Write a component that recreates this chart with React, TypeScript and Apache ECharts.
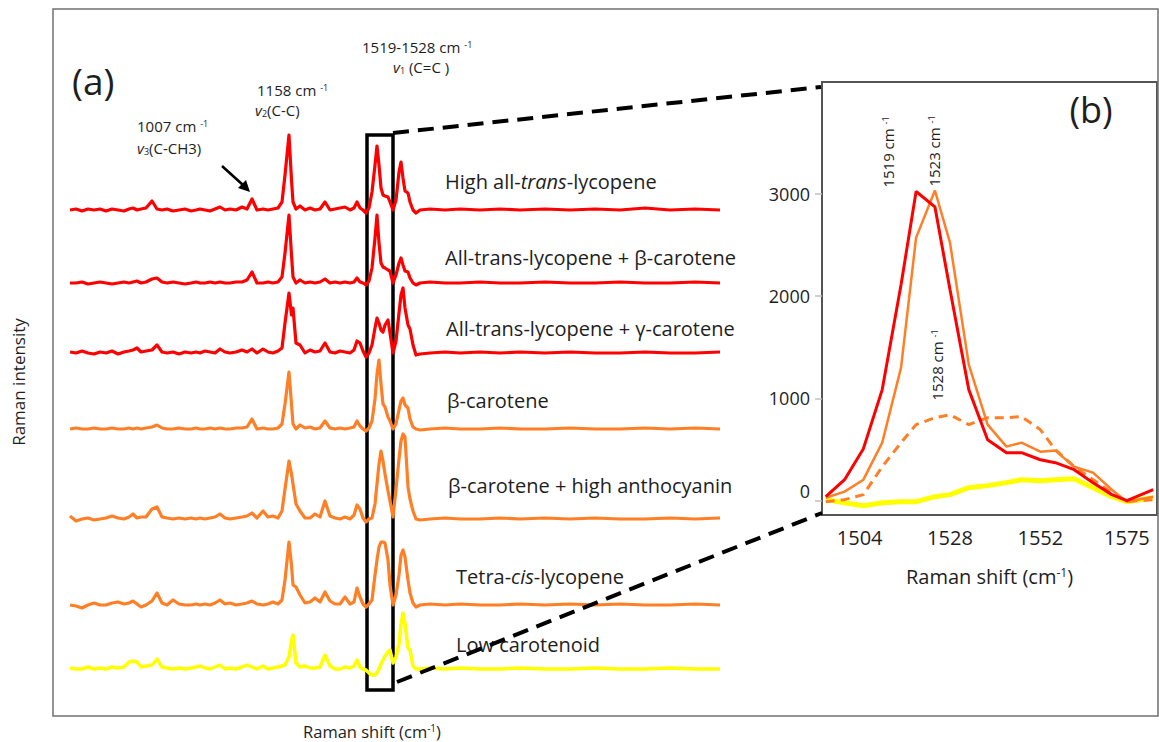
import React, { useEffect, useRef } from "react";
import * as echarts from "echarts";

// ---------- Panel (a): stacked Raman spectra ----------
// Raman shift grid (cm-1) shared by all spectra in panel (a)
const shiftA = [
  280, 304, 328, 352, 376, 400, 424, 448, 472, 496,
  516, 532, 548, 564, 584, 608, 628, 648, 668, 692,
  716, 740, 764, 784, 800, 820, 840, 860, 880, 900,
  920, 944, 968, 988, 1008, 1028, 1052, 1072, 1092, 1112,
  1128, 1140, 1156, 1166, 1172, 1184, 1200, 1220, 1240, 1260,
  1280, 1300, 1320, 1340, 1360, 1380, 1400, 1416, 1428, 1440,
  1452, 1464, 1476, 1488, 1500, 1508, 1516, 1524, 1532, 1540,
  1552, 1560, 1572, 1584, 1596, 1604, 1612, 1620, 1632, 1640,
  1652, 1664, 1680, 1720, 1780, 1840, 1920, 2000, 2080, 2180,
  2280, 2380, 2480, 2580, 2680, 2780, 2880,
];

const traceNames = [
  "High all-trans-lycopene",
  "All-trans-lycopene + β-carotene",
  "All-trans-lycopene + γ-carotene",
  "β-carotene",
  "β-carotene + high anthocyanin",
  "Tetra-cis-lycopene",
  "Low carotenoid",
];

// vertical offsets (stacking) of each spectrum, a.u.
const traceOffsets = [490, 417, 347, 271, 181, 95, 31];

// intensities above baseline, a.u.
const highTrans = [
  0, 1, -1, 1, 0, 1, -1, 1, 0, -1,
  1, 2, 0, 1, 2, 9, 1, 0, 1, -1,
  0, 1, -1, 0, 1, 0, -1, 1, 3, 0,
  1, 0, 3, 1, 11, 0, 1, 0, 1, 2,
  8, 35, 75, 30, 8, 1, 4, 0, 2, 0,
  1, 8, 0, 1, 2, 3, 0, 2, 8, 2,
  0, -3, 2, 18, 45, 64, 45, 22, 15, 14,
  13, 8, 0, 10, 38, 48, 32, 19, 17, 8,
  0, -3, 0, 1, 0, 1, 0, 1, 0, 1,
  0, 1, 0, 2, 0, 1, 0,
];
const transBeta = [
  0, 0, 1, -1, 0, 1, 0, -1, 0, 1,
  0, 1, 2, 0, 1, 4, 5, 1, 0, 1,
  0, -1, 0, 1, 0, 0, 1, 0, 1, 0,
  0, 1, 1, 3, 11, 0, 0, 1, 0, 1,
  6, 30, 68, 28, 6, 0, 3, 0, 1, 0,
  1, 4, 0, 1, 0, 1, 0, 1, 5, 1,
  0, -2, 2, 15, 45, 68, 40, 20, 16, 15,
  13, 12, 0, 8, 20, 25, 18, 12, 11, 5,
  0, -2, 0, 1, 0, 0, 1, 0, 0, 1,
  0, 0, 1, 0, 0, 1, 0,
];
const transGamma = [
  1, 0, 2, 0, -1, 1, 0, 2, -1, 1,
  2, 3, 5, 1, 2, 3, 8, 1, 0, 1,
  -1, 1, 0, 1, 0, 2, 1, 0, 4, 1,
  0, 1, 3, 1, 4, 0, 4, 1, 0, 2,
  5, 30, 60, 38, 45, 10, 8, 0, 3, 1,
  2, 10, 1, 0, 2, 1, 0, 3, 12, 10,
  2, -4, 0, 8, 25, 35, 30, 23, 21, 28,
  33, 20, 0, 12, 40, 58, 65, 45, 28, 24,
  8, -2, -1, 0, 1, 0, 1, 0, 1, 0,
  1, 0, 0, 1, 0, 0, 1,
];
const betaCarotene = [
  0, 1, 0, 0, 1, 0, 0, 1, 0, 0,
  1, 0, 1, 0, 1, 2, 4, 1, 0, 0,
  1, 0, 0, 1, 0, 0, 1, 0, 1, 0,
  0, 1, 1, 2, 10, 0, 1, 0, 0, 1,
  5, 25, 57, 25, 5, 0, 4, 1, 2, 0,
  1, 8, 1, 0, 1, 0, 1, 2, 8, 3,
  0, -2, 1, 8, 30, 55, 69, 45, 25, 22,
  12, 8, 0, 5, 19, 28, 31, 24, 21, 10,
  2, 0, -1, 0, 1, 0, 0, 1, 0, 0,
  1, 0, 0, 1, 0, 1, 0,
];
const betaAntho = [
  3, -2, 0, 1, -1, 0, 1, 3, 1, 0,
  2, 5, 1, 2, 2, 10, 12, 2, 1, 0,
  1, 0, 1, 0, 1, 0, 1, 2, 5, 1,
  0, 1, 2, 3, 6, 1, 8, 2, 3, 1,
  8, 30, 58, 45, 35, 15, 8, 1, 1, 5,
  2, 18, 3, 1, 0, 2, 0, 4, 14, 10,
  1, -3, 0, 1, 15, 35, 55, 68, 58, 45,
  28, 18, 2, 30, 60, 78, 85, 82, 32, 20,
  8, 0, -1, 0, 1, 0, 0, 1, 0, 1,
  0, 1, 0, 0, 1, 0, 1,
];
const tetraCis = [
  0, -1, -3, 0, 2, 0, 0, 2, 3, 1,
  2, 4, 1, -2, 0, 4, 12, 2, 0, 5,
  1, 0, 0, 1, 0, 1, 0, 2, 5, 1,
  2, 0, 1, 2, 4, 1, 0, 1, 3, 1,
  5, 25, 63, 40, 20, 18, 10, 2, 3, 7,
  3, 13, 4, 1, 1, 8, 1, 3, 17, 8,
  1, -2, 1, 5, 30, 45, 58, 63, 63, 62,
  45, 20, 0, 10, 30, 50, 55, 48, 25, 12,
  2, -2, 0, 1, 0, 1, 0, 0, 1, 0,
  1, 0, 1, 0, 0, 1, 0,
];
const lowCarot = [
  1, 0, 0, 2, 0, 1, 0, 2, 1, 2,
  7, 8, 7, 2, 3, 4, 10, 2, 1, 0,
  1, 0, 1, 2, 3, 1, 0, 2, 4, 0,
  1, 0, 2, 4, 2, 0, 3, 0, 1, 2,
  3, 4, 12, 28, 34, 6, 2, 3, 1, 1,
  2, 14, 3, 0, 0, 2, 1, 3, 9, 2,
  0, -1, -4, -6, -6, -4, 0, 5, 9, 13,
  17, 19, 6, 12, 25, 45, 56, 45, 21, 19,
  3, 0, 0, 1, 0, 1, 0, 0, 1, 0,
  0, 1, 0, 0, 1, 0, 0,
];
const tracesA = [highTrans, transBeta, transGamma, betaCarotene, betaAntho, tetraCis, lowCarot];

// zoom window drawn around the v1 band (cm-1 / a.u.)
const zoomWindow = { from: 1468, to: 1572, bottom: 10, top: 565 };

// ---------- Panel (b): v1 band detail ----------
const shiftB = [1495, 1500, 1505, 1510, 1515, 1519, 1524, 1528, 1533, 1538, 1543, 1547, 1552, 1556, 1561, 1566, 1571, 1575, 1582];
const bRed = [39, 205, 508, 1085, 2110, 3020, 2870, 2062, 1085, 596, 469, 469, 400, 371, 303, 176, 59, 0, 107];
const bOrange = [29, 88, 205, 567, 1300, 2570, 3030, 2521, 1329, 743, 528, 567, 479, 489, 332, 274, 107, -10, 39];
const bOrangeDash = [-10, 10, 59, 332, 567, 743, 811, 840, 743, 811, 811, 821, 694, 498, 332, 205, 78, -10, 10];
const bYellow = [10, -20, -49, -20, -10, -10, 39, 59, 127, 147, 176, 205, 195, 205, 215, 127, 39, -10, 29];
const bTicksX = [1504, 1528, 1552, 1575];
const bTicksY = [0, 1000, 2000, 3000];

// ---------- styles ----------
const FONT = "'Open Sans', 'Noto Sans', sans-serif";
const TXT = "#1e1e1e";
const RED = "#ff0000";
const ORANGE = "#ff7f27";
const YELLOW = "#ffff00";
const colorsA = [RED, RED, RED, ORANGE, ORANGE, ORANGE, YELLOW];

function richFor(size: number) {
  const small = Math.round(size * 0.62);
  return {
    sup: { fontSize: small, fontFamily: FONT, fill: TXT, verticalAlign: "top" },
    sub: { fontSize: small, fontFamily: FONT, fill: TXT, verticalAlign: "bottom" },
    it: { fontSize: size, fontFamily: FONT, fill: TXT, fontStyle: "italic" },
  };
}

function txt(x: number, y: number, text: string, size: number, extra: any = {}) {
  const { align, rotation, ...rest } = extra;
  return {
    type: "text",
    x,
    y,
    rotation: rotation || 0,
    silent: true,
    z: 20,
    style: {
      text,
      fontSize: size,
      fontFamily: FONT,
      fill: TXT,
      align: align || "left",
      verticalAlign: "middle",
      rich: richFor(size),
      ...rest,
    },
  };
}

function buildOption() {
  const seriesA = tracesA.map((vals, i) => ({
    type: "line",
    name: traceNames[i],
    xAxisIndex: 0,
    yAxisIndex: 0,
    showSymbol: false,
    symbol: "none",
    silent: true,
    z: 2,
    data: shiftA.map((s, j) => [s, traceOffsets[i] + vals[j]]),
    lineStyle: { color: colorsA[i], width: i === 6 ? 3.5 : 3.2, join: "round" },
  }));

  const boxSeries = {
    type: "line",
    xAxisIndex: 0,
    yAxisIndex: 0,
    data: [],
    z: 10,
    silent: true,
    markArea: {
      silent: true,
      itemStyle: { color: "rgba(0,0,0,0)", borderColor: "#000", borderWidth: 3.5 },
      data: [[{ xAxis: zoomWindow.from, yAxis: zoomWindow.top }, { xAxis: zoomWindow.to, yAxis: zoomWindow.bottom }]],
    },
  };

  const mkB = (vals: number[], color: string, width: number, type: any = "solid") => ({
    type: "line",
    xAxisIndex: 1,
    yAxisIndex: 1,
    showSymbol: false,
    symbol: "none",
    silent: true,
    data: shiftB.map((s, j) => [s, vals[j]]),
    lineStyle: { color, width, type },
  });

  const labelYs = [181, 257, 328, 400, 485, 576, 644];
  const labelXs = [445, 445, 446, 447, 448, 456, 456];
  const labelTexts = [
    "High all-{iL|trans}-lycopene",
    "All-trans-lycopene + β-carotene",
    "All-trans-lycopene + γ-carotene",
    "β-carotene",
    "β-carotene + high anthocyanin",
    "Tetra-{iL|cis}-lycopene",
    "Low carotenoid",
  ];
  const LS = 20;
  const traceLabels = labelTexts.map((t, i) => {
    const el: any = txt(labelXs[i], labelYs[i], t, LS);
    el.style.rich.iL = { fontSize: LS, fontFamily: FONT, fill: TXT, fontStyle: "italic" };
    return el;
  });

  const graphic: any[] = [
    {
      type: "rect",
      silent: true,
      z: 0,
      shape: { x: 53, y: 9, width: 1105, height: 707 },
      style: { fill: "none", stroke: "#707070", lineWidth: 1.5 },
    },
    txt(72, 80, "(a)", 37),
    txt(1091, 109, "(b)", 36, { align: "center" }),
    txt(137, 126, "1007 cm {sup|-1}", 15),
    txt(137, 148, "{it|v}{sub|3}(C-CH3)", 15),
    txt(257, 90, "1158 cm {sup|-1}", 15),
    txt(255, 110, "{it|v}{sub|2}(C-C)", 15),
    txt(362, 47, "1519-1528 cm {sup|-1}", 15),
    txt(393, 67, "{it|v}{sub|1} (C=C )", 15),
    ...traceLabels,
    // arrow to 1007 band
    {
      type: "line",
      silent: true,
      z: 20,
      shape: { x1: 222, y1: 166, x2: 243, y2: 185 },
      style: { stroke: "#000", lineWidth: 2.6 },
    },
    {
      type: "polygon",
      silent: true,
      z: 20,
      shape: { points: [[250, 192], [238, 188], [246, 180]] },
      style: { fill: "#000" },
    },
    // dashed connectors to panel (b)
    {
      type: "line",
      silent: true,
      z: 20,
      shape: { x1: 393, y1: 133, x2: 821, y2: 87 },
      style: { stroke: "#000", lineWidth: 4, lineDash: [16, 9] },
    },
    {
      type: "line",
      silent: true,
      z: 20,
      shape: { x1: 397, y1: 682, x2: 822, y2: 513 },
      style: { stroke: "#000", lineWidth: 4, lineDash: [16, 9] },
    },
    // axis titles of panel (a)
    txt(18, 382, "Raman intensity", 17, { align: "center", rotation: Math.PI / 2 }),
    txt(372, 731, "Raman shift (cm{sup|-1})", 16.5, { align: "center" }),
    // peak annotations of panel (b)
    txt(888, 152, "1519 cm {sup|-1}", 15, { align: "center", rotation: Math.PI / 2 }),
    txt(934, 151, "1523 cm {sup|-1}", 15, { align: "center", rotation: Math.PI / 2 }),
    txt(937, 365, "1528 cm {sup|-1}", 15, { align: "center", rotation: Math.PI / 2 }),
  ];

  return {
    animation: false,
    backgroundColor: "#ffffff",
    textStyle: { fontFamily: FONT },
    grid: [
      { left: 70, top: 100, width: 650, height: 600, show: false },
      {
        left: 822,
        top: 82,
        width: 335,
        height: 433,
        show: true,
        borderColor: "#555",
        borderWidth: 2,
        backgroundColor: "rgba(0,0,0,0)",
      },
    ],
    xAxis: [
      { type: "value", gridIndex: 0, min: 280, max: 2880, show: false },
      {
        type: "value",
        gridIndex: 1,
        min: 1494,
        max: 1583,
        axisLine: { show: false },
        axisTick: { show: false },
        splitLine: { show: false },
        axisLabel: {
          customValues: bTicksX,
          formatter: (v: number) => String(v),
          fontSize: 20,
          color: TXT,
          fontFamily: FONT,
          margin: 12,
        },
        name: "Raman shift (cm{sup|-1})",
        nameLocation: "middle",
        nameGap: 51,
        nameTextStyle: {
          fontSize: 20,
          color: TXT,
          fontFamily: FONT,
          rich: { sup: { fontSize: 12, color: TXT, fontFamily: FONT, verticalAlign: "top" } },
        },
      },
    ],
    yAxis: [
      { type: "value", gridIndex: 0, min: 0, max: 600, show: false },
      {
        type: "value",
        gridIndex: 1,
        min: -140,
        max: 4090,
        axisLine: { show: false },
        splitLine: { show: false },
        axisTick: { show: true, customValues: bTicksY, length: 7, lineStyle: { color: "#c0c0c0", width: 1.5 } },
        axisLabel: {
          customValues: bTicksY,
          formatter: (v: number) => (v === 0 ? "{z|0}" : String(v)),
          rich: { z: { fontSize: 18, color: TXT, fontFamily: FONT, padding: [0, 0, 20, 0] } },
          fontSize: 18,
          color: TXT,
          fontFamily: FONT,
          margin: 12,
        },
      },
    ],
    series: [
      ...seriesA,
      boxSeries,
      mkB(bYellow, YELLOW, 5),
      mkB(bOrangeDash, ORANGE, 3, [9, 6]),
      mkB(bOrange, ORANGE, 2.5),
      mkB(bRed, RED, 3),
    ],
    graphic,
  };
}

export default function App() {
  const ref = useRef<HTMLDivElement>(null);
  useEffect(() => {
    if (!ref.current) return;
    const chart = echarts.init(ref.current, null, { renderer: "svg" });
    chart.setOption(buildOption() as any);
    return () => chart.dispose();
  }, []);
  return (
    <div
      ref={ref}
      style={{ position: "absolute", left: 0, top: 0, width: 1159, height: 742, background: "#fff" }}
    />
  );
}
